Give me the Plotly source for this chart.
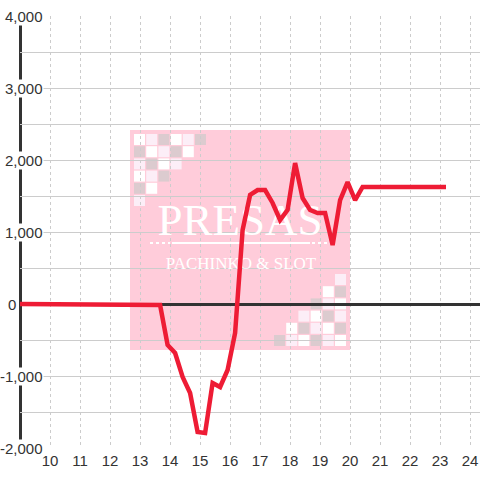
import plotly.graph_objects as go

# ---- data ----
hours = [9.0, 13.42, 13.67, 13.92, 14.17, 14.42, 14.67, 14.92, 15.17, 15.42,
         15.67, 15.92, 16.17, 16.42, 16.67, 16.92, 17.17, 17.42, 17.67, 17.92,
         18.17, 18.42, 18.67, 18.92, 19.17, 19.42, 19.67, 19.92, 20.17, 20.42, 23.2]
balance = [0, 0, -14, -569, -681, -1014, -1236, -1778, -1792, -1097,
           -1153, -917, -403, 1028, 1514, 1583, 1583, 1403, 1167, 1306,
           1958, 1472, 1306, 1264, 1264, 819, 1444, 1694, 1444, 1625, 1625]
x_ticks = list(range(10, 25))
x_tick_labels = [str(v) for v in x_ticks]
y_label_vals = [4000, 3000, 2000, 1000, 0, -1000, -2000]
y_label_text = ["4,000", "3,000", "2,000", "1,000", "0", "-1,000", "-2,000"]

# ---- layout geometry ----
W, H = 480, 480
ML, MR, MT, MB = 20, 0, 16, 32
PW, PH = W - ML - MR, H - MT - MB
X_RANGE = [9.0, 9.0 + PW / 30.0]
Y_RANGE = [-2000, 4000]

def pxx(px):
    return (px - ML) / PW

def pxy(py):
    return (H - MB - py) / PH

def dx(px):
    return X_RANGE[0] + (px - ML) / PW * (X_RANGE[1] - X_RANGE[0])

def dy(py):
    return Y_RANGE[0] + (H - MB - py) / PH * (Y_RANGE[1] - Y_RANGE[0])

FONT = "Liberation Sans, Arial, sans-serif"
SERIF = "Liberation Serif, Times New Roman, serif"
PINK = "#FFCCDA"
CELL = {"W": "#FFFFFF", "L": "#FCEEF7", "G": "#DCCBCF"}
pattern = ["WLGWLG", "GWLGW", "LGWL", "WLG", "GW", "L"]

shapes = []
# watermark panel
shapes.append(dict(type="rect", xref="paper", yref="paper",
                   x0=pxx(130), x1=pxx(350), y0=pxy(350), y1=pxy(130),
                   fillcolor=PINK, line=dict(width=0), layer="below"))
pitch, size = 12.2, 11
for r, row in enumerate(pattern):
    for c, ch in enumerate(row):
        x0 = 134 + c * pitch
        y0 = 134 + r * pitch
        shapes.append(dict(type="rect", xref="paper", yref="paper",
                           x0=pxx(x0), x1=pxx(x0 + size), y0=pxy(y0 + size), y1=pxy(y0),
                           fillcolor=CELL[ch], line=dict(width=0), layer="below"))
        x1 = 346 - c * pitch
        y1 = 346 - r * pitch
        shapes.append(dict(type="rect", xref="paper", yref="paper",
                           x0=pxx(x1 - size), x1=pxx(x1), y0=pxy(y1), y1=pxy(y1 - size),
                           fillcolor=CELL[ch], line=dict(width=0), layer="below"))
# decorative rule under the logo
shapes.append(dict(type="line", xref="paper", yref="paper",
                   x0=pxx(172), x1=pxx(310), y0=pxy(243), y1=pxy(243),
                   line=dict(color="white", width=2), layer="below"))
for a, b in [(150, 170), (312, 333)]:
    shapes.append(dict(type="line", xref="paper", yref="paper",
                       x0=pxx(a), x1=pxx(b), y0=pxy(243), y1=pxy(243),
                       line=dict(color="white", width=2, dash="dot"), layer="below"))
# left vertical axis bar
shapes.append(dict(type="line", xref="paper", yref="paper",
                   x0=pxx(20.5), x1=pxx(20.5), y0=0, y1=1,
                   line=dict(color="#333333", width=3), layer="between"))

fig = go.Figure()
fig.add_trace(go.Scatter(
    x=[dx(240), dx(241)], y=[dy(224), dy(265)],
    mode="text", text=["PRESAS", "PACHINKO &amp; SLOT"],
    textfont=dict(family=SERIF, size=[45, 17], color="white"),
    hoverinfo="skip", showlegend=False, cliponaxis=False))
fig.add_trace(go.Scatter(
    x=hours, y=balance, mode="lines",
    line=dict(color="#EE1C35", width=4.5),
    hoverinfo="skip", showlegend=False))

annotations = []
for v, t in zip(y_label_vals, y_label_text):
    right = 17 if v == 0 else 44
    annotations.append(dict(x=pxx(right), xref="paper", y=v, yref="y",
                            xanchor="right", yanchor="middle", text=t,
                            showarrow=False, bgcolor="white", borderpad=0,
                            font=dict(family=FONT, size=15, color="#333333")))

fig.update_layout(
    width=W, height=H,
    margin=dict(l=ML, r=MR, t=MT, b=MB, pad=0, autoexpand=False),
    paper_bgcolor="white", plot_bgcolor="white",
    shapes=shapes, annotations=annotations,
    font=dict(family=FONT, size=15, color="#333333"),
    xaxis=dict(range=X_RANGE, tickmode="array", tickvals=x_ticks,
               ticktext=x_tick_labels, showgrid=True, gridcolor="#CCCCCC",
               griddash="dot", gridwidth=1, zeroline=False, showline=False,
               ticks="", ticklabelstandoff=2, automargin=False,
               tickfont=dict(size=15, color="#333333")),
    yaxis=dict(range=Y_RANGE, dtick=500, tick0=0, showgrid=True,
               gridcolor="#CCCCCC", gridwidth=1, showticklabels=False,
               zeroline=True, zerolinecolor="#333333", zerolinewidth=3,
               showline=False, ticks="", automargin=False),
)

fig.write_html("out.html", config={"displayModeBar": False, "staticPlot": True},
               post_script="document.body.style.margin='0';document.body.style.padding='0';")
